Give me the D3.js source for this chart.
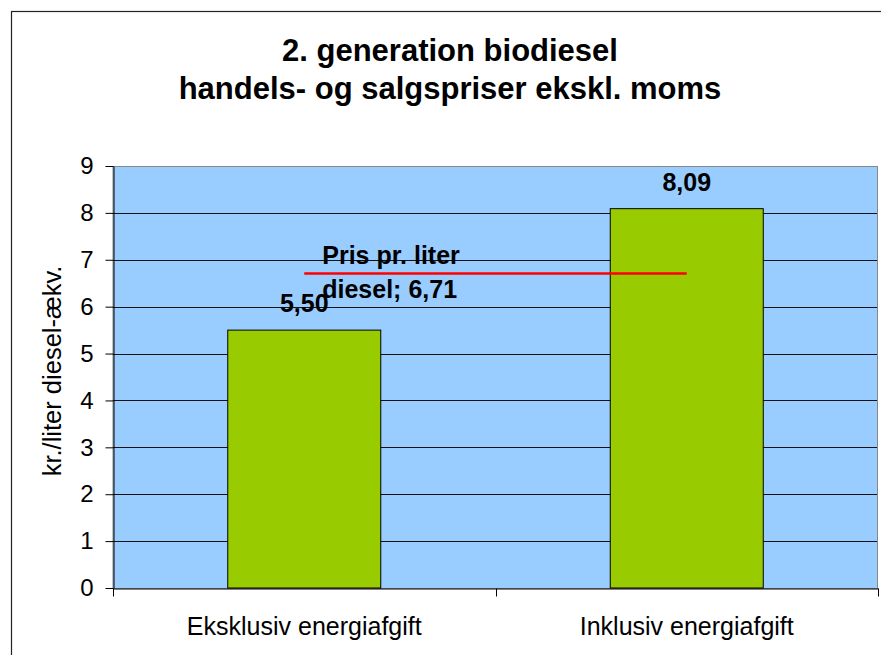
<!DOCTYPE html>
<html>
<head>
<meta charset="utf-8">
<script src="https://cdnjs.cloudflare.com/ajax/libs/d3/7.8.5/d3.min.js"></script>
<style>
	body { margin: 0; background: #fff; }
	text { font-family: "Liberation Sans", Arial, sans-serif; fill: #000; }
</style>
</head>
<body>
<script>
// Data
var titleLines = ['2. generation biodiesel', 'handels- og salgspriser ekskl. moms'];
var categories = ['Eksklusiv energiafgift', 'Inklusiv energiafgift'];
var values = [5.50, 8.09];
var dieselPrice = 6.71;
var dieselLabel = ['Pris pr. liter', 'diesel; 6,71'];
var yTicks = [0, 1, 2, 3, 4, 5, 6, 7, 8, 9];
var yTitle = 'kr./liter diesel-ækv.';

// danish number format: 5,50
function fmt(v) {
	return d3.format('.2f')(v).replace('.', ',');
}

function ready() {
	var width = 881,
			height = 655,
			left = 113, right = 878, top = 166, bottom = 588;

	var svg = d3.select('body')
		.append('svg')
		.attr('width', width)
		.attr('height', height)
		.style('display', 'block');

	// outer chart frame, runs past the page on the right and bottom
	svg.append('rect')
		.attr('x', 11.5).attr('y', 11.5)
		.attr('width', 1000).attr('height', 1000)
		.attr('fill', '#fff')
		.attr('stroke', '#222')
		.attr('stroke-width', 1.2);

	// title
	svg.append('text')
		.attr('text-anchor', 'middle')
		.style('font-weight', 'bold')
		.style('font-size', '31px')
		.selectAll('tspan')
		.data(titleLines)
		.enter()
		.append('tspan')
		.attr('x', 450)
		.attr('y', function(d, i) { return 61 + i * 38; })
		.text(function(d) { return d; });

	var x = d3.scaleBand().domain(categories).range([left, right]),
			y = d3.scaleLinear().domain([0, 9]).range([bottom, top]),
			barW = x.bandwidth() * 0.4;

	// plot area
	svg.append('rect')
		.attr('x', left).attr('y', top + 0.5)
		.attr('width', right - left - 0.5).attr('height', bottom - top)
		.attr('fill', '#99CCFF')
		.attr('stroke', '#888')
		.attr('stroke-width', 1);

	// gridlines
	svg.selectAll('line.grid')
		.data(yTicks.filter(function(d) { return d > 0 && d < 9; }))
		.enter()
		.append('line')
		.attr('class', 'grid')
		.attr('x1', left).attr('x2', right - 1)
		.attr('y1', function(d) { return Math.round(y(d)) + 0.5; })
		.attr('y2', function(d) { return Math.round(y(d)) + 0.5; })
		.attr('stroke', '#111')
		.attr('stroke-width', 1);

	// bars
	svg.selectAll('rect.bar')
		.data(values)
		.enter()
		.append('rect')
		.attr('class', 'bar')
		.attr('x', function(d, i) { return x(categories[i]) + (x.bandwidth() - barW) / 2; })
		.attr('y', function(d) { return y(d); })
		.attr('width', barW)
		.attr('height', function(d) { return bottom - y(d); })
		.attr('fill', '#99CC00')
		.attr('stroke', '#000')
		.attr('stroke-width', 1);

	// bar value labels
	svg.selectAll('text.val')
		.data(values)
		.enter()
		.append('text')
		.attr('class', 'val')
		.attr('x', function(d, i) { return x(categories[i]) + x.bandwidth() / 2; })
		.attr('y', function(d) { return y(d) - 18; })
		.attr('text-anchor', 'middle')
		.style('font-weight', 'bold')
		.style('font-size', '25px')
		.text(function(d) { return fmt(d); });

	// diesel price line, from middle of first category to middle of second
	var c0 = x(categories[0]) + x.bandwidth() / 2,
			c1 = x(categories[1]) + x.bandwidth() / 2;
	svg.append('line')
		.attr('x1', c0).attr('x2', c1)
		.attr('y1', y(dieselPrice)).attr('y2', y(dieselPrice))
		.attr('stroke', '#FF0000')
		.attr('stroke-width', 2.5);

	svg.append('text')
		.style('font-weight', 'bold')
		.style('font-size', '25px')
		.selectAll('tspan')
		.data(dieselLabel)
		.enter()
		.append('tspan')
		.attr('x', c0 + 18)
		.attr('y', function(d, i) { return y(dieselPrice) - 9.5 + i * 34; })
		.text(function(d) { return d; });

	// y axis
	var yAxis = svg.append('g')
		.attr('transform', 'translate(' + (left + 0.5) + ',0)')
		.call(d3.axisLeft(y).tickValues(yTicks).tickSize(8).tickSizeOuter(0).tickPadding(12));
	yAxis.selectAll('text').style('font-size', '24px').attr('fill', '#000');
	yAxis.selectAll('line, path').attr('stroke', '#000');

	// x axis with labels, ticks between categories
	var xAxis = svg.append('g')
		.attr('transform', 'translate(0,' + (bottom + 0.5) + ')')
		.call(d3.axisBottom(x).tickSize(0).tickSizeOuter(0).tickPadding(29));
	xAxis.selectAll('text').style('font-size', '25px').attr('fill', '#000');
	xAxis.select('path').attr('stroke', '#000');

	var edges = categories.map(function(c) { return x(c); }).concat([right - 0.5]);
	xAxis.selectAll('line.edge')
		.data(edges)
		.enter()
		.append('line')
		.attr('class', 'edge')
		.attr('x1', function(d) { return Math.round(d) + 0.5; })
		.attr('x2', function(d) { return Math.round(d) + 0.5; })
		.attr('y1', 0).attr('y2', 8)
		.attr('stroke', '#000');

	// y axis title
	svg.append('text')
		.attr('transform', 'translate(61,371) rotate(-90)')
		.attr('text-anchor', 'middle')
		.style('font-size', '25.5px')
		.text(yTitle);
}

window.onload = function() {
	ready();
};
</script>
</body>
</html>
